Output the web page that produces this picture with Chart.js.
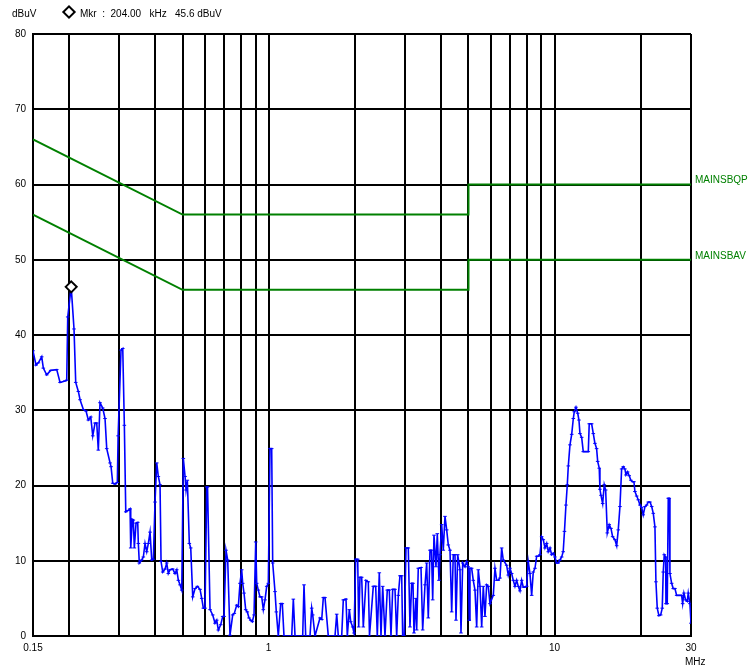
<!DOCTYPE html>
<html>
<head>
<meta charset="utf-8">
<script src="https://cdn.jsdelivr.net/npm/chart.js@4/dist/chart.umd.min.js"></script>
<style>
  html, body { margin: 0; padding: 0; background: #fff; }
  #wrap { position: relative; width: 751px; height: 672px; }
  canvas { position: absolute; left: 0; top: 0; }
  .t { position: absolute; font-family: "Liberation Sans", Arial, sans-serif; font-size: 10px; color: #000; white-space: pre; line-height: 12px; }
  #dia { position: absolute; left: 64px; top: 7px; width: 6px; height: 6px; border: 2px solid #000; transform: rotate(45deg); background: #fff; }
</style>
</head>
<body>
<div id="wrap">
  <canvas id="c" width="751" height="672"></canvas>
  <div class="t" style="left:12px; top:8px;">dBuV</div>
  <div id="dia"></div>
  <div class="t" style="left:80px; top:8px;">Mkr  :  204.00   kHz   45.6 dBuV</div>
  <div class="t" style="left:685px; top:656px;">MHz</div>
</div>
<script>
// ---- data (frequency in MHz, level in dBuV) ----
const freqMHz = [
  0.150,0.1537,0.1566,0.1609,0.1630,0.1675,0.1730,0.1816,0.1865,0.1941,0.1968,0.1984,0.2040,0.2087,0.2116,0.2161,0.2191,0.2250,0.2299,0.2342,
  0.2388,0.2427,0.2472,0.2506,0.2538,0.2573,0.2630,0.2679,0.2716,0.2790,0.2812,0.2851,0.2904,0.2958,0.2977,0.3047,0.3090,0.3130,0.3166,0.3232,
  0.3277,0.3295,0.3338,0.3365,0.3392,0.3439,0.3486,0.3503,0.3531,0.3600,0.3647,0.3697,0.3748,0.3797,0.3849,0.3902,0.3953,0.4007,0.4062,0.4115,
  0.4172,0.4206,0.4264,0.4344,0.4403,0.4460,0.4521,0.4621,0.4707,0.4773,0.4835,0.4901,0.4969,0.5032,0.5103,0.5144,0.5198,0.5282,0.5342,0.5429,
  0.5531,0.5634,0.5757,0.5837,0.5913,0.5994,0.6077,0.6116,0.6240,0.6376,0.6496,0.6585,0.6671,0.6801,0.6911,0.6985,0.7096,0.7194,0.7328,0.7490,
  0.7587,0.7735,0.7836,0.7943,0.8051,0.8117,0.8204,0.8316,0.8424,0.8541,0.8658,0.8770,0.8892,0.9014,0.9087,0.9204,0.9331,0.9460,0.9583,0.9714,
  0.9849,0.9977,1.0113,1.0252,1.0335,1.0529,1.0640,1.0812,1.1022,1.1166,1.1320,1.2046,1.2203,1.2370,1.3159,1.3298,1.3481,1.3957,1.4149,1.4264,
  1.4530,1.5127,1.5337,1.5536,1.5749,1.6171,1.7070,1.7304,1.7528,1.8015,1.8249,1.8649,1.8847,1.9154,1.9371,1.9686,1.9892,2.0165,2.0493,2.0654,
  2.0874,2.1160,2.1435,2.1909,2.2317,2.2534,2.3232,2.3686,2.3994,2.4384,2.4717,2.5061,2.5527,2.6002,2.6425,2.6792,2.7159,2.7669,2.8047,2.8412,
  2.8800,2.9200,2.9436,2.9818,3.0226,3.0794,3.1216,3.1644,3.1981,3.2240,3.2764,3.2946,3.3374,3.4112,3.4579,3.5230,3.5712,3.6176,3.6671,3.7120,
  3.7481,3.7871,3.8487,3.8897,3.9429,3.9748,4.0292,4.0815,4.1384,4.1952,4.2497,4.3087,4.3679,4.4246,4.4851,4.5214,4.5842,4.6695,4.7073,4.7727,
  4.8616,4.9281,4.9910,5.0314,5.0604,5.1300,5.1965,5.2689,5.3412,5.4106,5.4858,5.5609,5.6330,5.7101,5.7895,5.8646,5.9448,6.1057,6.1893,6.2753,
  6.3556,6.4438,6.5313,6.6161,6.7992,6.8876,6.9836,7.0795,7.1714,7.2696,7.3705,7.4661,7.5683,7.6736,7.7732,7.8795,7.9874,8.0910,8.2035,8.3160,
  8.4239,8.5410,8.6581,8.7700,8.8920,9.0141,9.1312,9.2564,9.3851,9.5069,9.6365,9.7700,9.8970,10.03,10.17,10.30,10.44,10.59,10.72,10.83,
  10.96,11.08,11.17,11.32,11.48,11.63,11.72,11.88,12.05,12.17,12.27,12.44,12.60,12.77,12.95,13.12,13.22,13.48,13.66,13.84,
  14.03,14.15,14.33,14.41,14.53,14.73,14.92,15.09,15.29,15.53,15.75,15.96,16.26,16.49,16.70,16.93,17.16,17.39,17.62,17.77,
  18.01,18.24,18.49,18.75,18.95,19.10,19.37,19.62,19.89,20.16,20.42,20.71,20.99,21.27,21.56,21.86,22.14,22.44,22.62,22.86,
  23.17,23.50,23.80,23.99,24.19,24.46,24.52,24.78,24.98,25.18,25.32,25.67,26.00,26.36,26.73,27.07,27.45,27.82,28.05,28.34,
  28.73,29.11,29.34,29.74,30.00
];
const levelDbuV = [
  37.9,36.0,36.3,37.1,35.6,34.7,35.3,35.4,33.7,33.9,34.0,42.4,46.4,40.8,33.7,32.5,31.4,30.1,29.9,28.7,
  29.1,26.6,28.3,28.3,24.7,31.0,30.3,28.9,24.9,23.0,22.5,20.3,20.2,20.4,26.6,38.0,38.2,28.0,16.5,16.7,
  16.9,11.7,15.5,15.4,11.7,15.0,15.1,12.3,9.7,10.1,10.5,12.3,11.2,12.3,13.8,10.1,10.2,17.8,23.0,21.2,
  20.1,9.9,8.5,8.9,9.7,8.3,8.8,8.9,8.3,8.8,7.4,6.8,6.1,23.6,21.2,19.4,20.7,12.3,11.7,5.2,
  6.3,6.6,6.2,5.0,3.7,3.7,19.8,19.8,3.5,2.8,1.7,2.1,0.8,1.5,2.6,2.6,11.4,10.1,0.1,2.8,
  3.0,4.1,3.9,7.0,8.8,7.0,5.7,3.5,3.2,2.4,2.1,1.9,2.8,12.5,7.0,6.1,5.2,5.2,3.5,4.8,
  6.6,7.0,24.9,24.9,9.7,5.9,3.2,0,4.3,4.3,0,0,4.9,0,0,6.8,0,0,3.7,2.8,
  0,2.4,2.2,5.1,5.1,0,0,2.9,0,0,4.8,4.9,0,3.5,1.9,1.2,0.4,10.2,10.2,1.2,
  7.8,7.8,1.2,7.4,7.2,0,6.6,6.6,0,8.4,0,6.6,0,6.1,6.1,0,6.2,6.2,0,5.4,
  8.0,8.0,0,0,11.7,11.7,1.2,7.0,7.0,0.4,5.0,0.8,9.0,9.1,0.8,6.8,9.7,2.4,11.4,11.4,
  4.8,13.4,9.2,13.6,7.4,10.8,14.8,11.4,15.9,14.1,12.1,11.4,3.2,10.8,10.8,2.1,10.8,8.8,0.4,9.7,
  9.2,9.9,9.2,2.1,9.0,9.0,7.4,6.1,1.2,8.8,6.6,1.2,6.6,2.6,6.8,6.6,4.3,5.4,9.0,7.4,
  7.4,7.7,11.7,10.1,9.4,8.1,9.0,8.3,7.4,6.6,7.4,6.6,6.0,7.4,6.5,6.5,6.6,9.9,8.3,5.4,
  8.5,9.0,10.6,10.6,10.8,13.2,12.8,11.7,12.3,11.2,11.7,10.8,11.0,10.5,9.7,9.7,10.1,10.5,11.2,13.9,
  17.4,20.1,22.6,25.4,26.8,28.9,29.8,30.4,29.6,28.7,26.9,26.4,24.5,24.5,24.5,24.5,28.2,28.2,26.9,25.6,
  24.9,23.2,22.3,19.5,18.7,17.6,20.1,19.4,13.7,14.8,14.3,13.2,12.8,12.0,14.1,17.2,22.2,22.5,22.2,21.4,
  21.8,21.3,20.7,20.5,20.5,19.2,18.6,18.1,17.4,17.1,16.1,17.2,17.4,17.8,17.8,17.2,16.3,14.5,7.2,3.7,
  2.7,2.8,3.7,8.5,10.8,10.5,4.3,4.3,18.3,18.3,8.3,7.0,6.3,6.3,5.4,5.4,5.4,5.4,4.3,5.7,
  4.8,4.6,5.7,4.3,1.7
];
const limitFreq = [0.15, 0.5, 5, 5, 30];
const limitQP   = [66, 56, 56, 60, 60];
const limitAV   = [56, 46, 46, 50, 50];
const limitNames = ["MAINSBQP", "MAINSBAV"];
const markerFreq = 0.204;
const markerLevel = 46.4;
const gridFreqs = [0.15,0.2,0.3,0.4,0.5,0.6,0.7,0.8,0.9,1,2,3,4,5,6,7,8,9,10,20,30];
const xTickLabels = [0.15, 1, 10, 30];
const yMin = 0, yMax = 80, yStep = 10;

const green = '#008000';
const font = { family: '"Liberation Sans", Arial, sans-serif', size: 10 };

const limitLabels = {
  id: 'limitLabels',
  afterDatasetsDraw(chart) {
    const ctx = chart.ctx, ys = chart.scales.y, area = chart.chartArea;
    ctx.save();
    ctx.fillStyle = green;
    ctx.font = '10px "Liberation Sans", Arial, sans-serif';
    ctx.textBaseline = 'bottom';
    ctx.textAlign = 'left';
    ctx.fillText(limitNames[0], area.right + 4, ys.getPixelForValue(limitQP[limitQP.length-1]) + 1);
    ctx.fillText(limitNames[1], area.right + 4, ys.getPixelForValue(limitAV[limitAV.length-1]) + 1);
    ctx.restore();
  }
};

new Chart(document.getElementById('c'), {
  type: 'line',
  data: {
    datasets: [
      {
        data: freqMHz.map((f, i) => ({ x: f, y: levelDbuV[i] })),
        borderColor: '#0000ff', borderWidth: 1.6,
        pointStyle: 'line', pointRadius: 1.8, pointBorderWidth: 1, pointBorderColor: '#0000ff',
        tension: 0, order: 2
      },
      {
        data: limitFreq.map((f, i) => ({ x: f, y: limitQP[i] })),
        borderColor: green, borderWidth: 2, pointRadius: 0, tension: 0, order: 3
      },
      {
        data: limitFreq.map((f, i) => ({ x: f, y: limitAV[i] })),
        borderColor: green, borderWidth: 2, pointRadius: 0, tension: 0, order: 3
      },
      {
        data: [{ x: markerFreq, y: markerLevel }],
        showLine: false, pointStyle: 'rectRot', pointRadius: 5.5,
        backgroundColor: '#fff', borderColor: '#000', borderWidth: 2, order: 1
      }
    ]
  },
  options: {
    responsive: false, animation: false, devicePixelRatio: 1,
    layout: { padding: { left: 0, top: 34, right: 60, bottom: 0 } },
    plugins: { legend: { display: false }, tooltip: { enabled: false } },
    scales: {
      x: {
        type: 'logarithmic', min: 0.15, max: 30,
        afterBuildTicks: (s) => { s.ticks = gridFreqs.map(v => ({ value: v })); },
        afterFit: (s) => { s.height = 36; },
        grid: { color: '#000', lineWidth: 2, drawTicks: false },
        border: { display: true, color: '#000', width: 2 },
        ticks: {
          autoSkip: false, maxRotation: 0, padding: 6, color: '#000', font,
          callback: (v) => xTickLabels.includes(v) ? String(v) : ''
        }
      },
      y: {
        type: 'linear', min: yMin, max: yMax,
        afterFit: (s) => { s.width = 33; },
        grid: { color: '#000', lineWidth: 2, drawTicks: false },
        border: { display: true, color: '#000', width: 2 },
        ticks: { stepSize: yStep, padding: 7, color: '#000', font }
      }
    }
  },
  plugins: [limitLabels]
});
</script>
</body>
</html>
